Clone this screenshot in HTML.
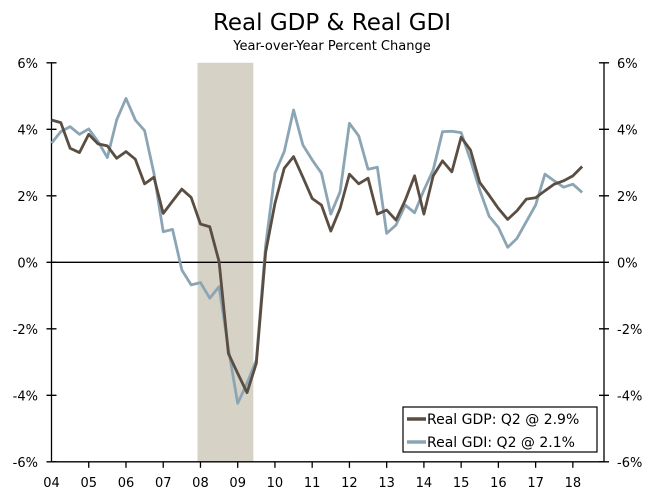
<!DOCTYPE html>
<html><head><meta charset="utf-8"><style>
html,body{margin:0;padding:0;background:#fff;}
svg{display:block;font-family:"DejaVu Sans","Liberation Sans",sans-serif;}
</style></head><body>
<svg id="chart" width="664" height="500" viewBox="0 0 664 500">
<text x="332" y="30" text-anchor="middle" font-size="23" fill="#000">Real GDP &amp; Real GDI</text>
<text x="332" y="50" text-anchor="middle" font-size="13" fill="#000">Year-over-Year Percent Change</text>
<g id="plot"></g>
</svg>
<script>
const years = ["04","05","06","07","08","09","10","11","12","13","14","15","16","17","18"];
const yTicks = [6,4,2,0,-2,-4,-6];
const gdp = [4.28,4.2,3.43,3.3,3.85,3.56,3.5,3.13,3.33,3.1,2.36,2.56,1.47,1.84,2.2,1.95,1.15,1.07,0.02,-2.74,-3.34,-3.92,-3.04,0.3,1.77,2.83,3.18,2.56,1.92,1.72,0.94,1.62,2.65,2.36,2.53,1.45,1.57,1.27,1.87,2.6,1.45,2.6,3.05,2.72,3.76,3.38,2.4,2.02,1.62,1.29,1.55,1.9,1.94,2.15,2.35,2.45,2.6,2.88];
const gdi = [3.58,3.93,4.08,3.85,4.01,3.63,3.15,4.28,4.93,4.28,3.96,2.68,0.92,0.99,-0.23,-0.68,-0.61,-1.08,-0.73,-2.6,-4.24,-3.64,-2.94,0.5,2.68,3.33,4.58,3.53,3.08,2.68,1.45,2.12,4.18,3.8,2.8,2.86,0.87,1.12,1.72,1.49,2.17,2.78,3.93,3.94,3.9,3.08,2.17,1.39,1.05,0.45,0.72,1.22,1.72,2.65,2.45,2.26,2.35,2.1];
const recession = [2007.92, 2009.42];
</script>
<script>
const NS="http://www.w3.org/2000/svg";
const g=document.getElementById('plot');
const X0=51.5, X1=604, Y0=262.3, PPU=33.25, STEP=9.31;
const xq=i=>X0+i*STEP;
const xt=t=>X0+(t-2004)*4*STEP;
const y=v=>Y0-v*PPU;
function el(tag,attrs){const e=document.createElementNS(NS,tag);for(const k in attrs)e.setAttribute(k,attrs[k]);g.appendChild(e);return e;}
const sh=el('rect',{x:xt(recession[0]),y:y(6),width:xt(recession[1])-xt(recession[0]),height:y(-6)-y(6),fill:'#d6d2c6'});


const ax=el('path',{d:`M${X0},${y(6)}V${y(-6)}H${X1}V${y(6)}M${X0},${y(0)}H${X1}`,stroke:'#000','stroke-width':1.3,fill:'none'});


yTicks.forEach(v=>{
  el('path',{d:`M${X0-5},${y(v)}H${X0+5}M${X1-5},${y(v)}H${X1+5}`,stroke:'#000','stroke-width':1.3});
  const l=el('text',{x:38,y:y(v)+5,'text-anchor':'end','font-size':13});l.textContent=v+'%';
  
  
  const r=el('text',{x:617,y:y(v)+5,'font-size':13});r.textContent=v+'%';
  
  
});
years.forEach((yr,i)=>{
  const x=xq(i*4);
  if(i>0)el('path',{d:`M${x},${y(-6)}v6`,stroke:'#000','stroke-width':1.3});
  const t=el('text',{x:x,y:487,'text-anchor':'middle','font-size':13});t.textContent=yr;
  
  
});
function line(data,color,name){
  const p=el('polyline',{points:data.map((v,i)=>xq(i)+','+y(v)).join(' '),fill:'none',stroke:color,'stroke-width':2.8,'stroke-linejoin':'round'});
  
  
}
line(gdi,'#8ba5b4','real-gdi-line');
line(gdp,'#5a4d42','real-gdp-line');
const lg=el('rect',{x:403,y:407,width:194,height:45,fill:'#fff',stroke:'#000','stroke-width':1.2});


[['#5a4d42','Real GDP: Q2 @ 2.9%',418],['#8ba5b4','Real GDI: Q2 @ 2.1%',441]].forEach(([c,txt,yy])=>{
  el('path',{d:`M407,${yy+1}H426`,stroke:c,'stroke-width':3.5});
  const t=el('text',{x:427,y:yy+6,'font-size':14});t.textContent=txt;
  
  
});
</script>
</body></html>
